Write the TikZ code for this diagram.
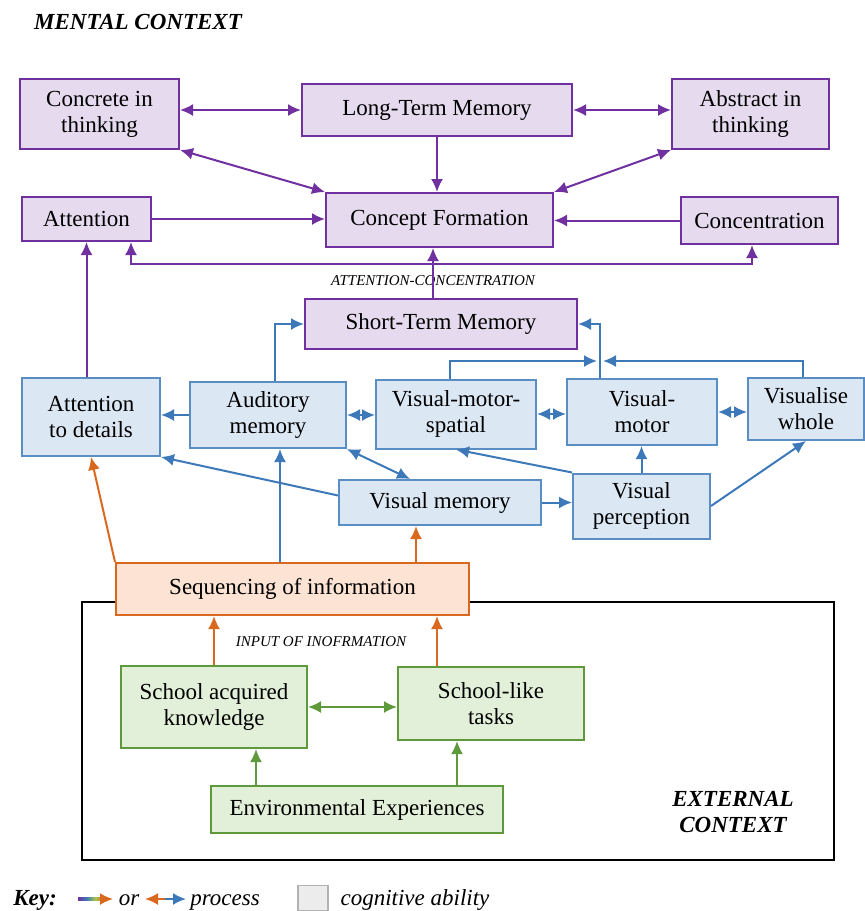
\documentclass[tikz,border=0pt]{standalone}
\usepackage{fontspec}
\setmainfont{Liberation Serif}
\usetikzlibrary{arrows.meta,calc}

\definecolor{mentalline}{HTML}{70309F}
\definecolor{mentalfill}{HTML}{E5DAEE}
\definecolor{visline}{HTML}{3D79B8}
\definecolor{visfill}{HTML}{DCE7F4}
\definecolor{seqline}{HTML}{D9691E}
\definecolor{seqfill}{HTML}{FCE3D3}
\definecolor{extline}{HTML}{5E9A3C}
\definecolor{extfill}{HTML}{E3F0D9}
\definecolor{keygreen}{HTML}{A8C64A}

\pgfdeclarehorizontalshading{keyrainbow}{100bp}{color(0bp)=(mentalline); color(25bp)=(mentalline); color(42bp)=(visline); color(60bp)=(keygreen); color(75bp)=(seqline); color(100bp)=(seqline)}

\begin{document}
\begin{tikzpicture}[x=0.5pt,y=-0.5pt,>={Latex[length=6.5pt,width=6pt]},
    box/.style={draw,line width=1pt,align=center,inner sep=1pt,font=\fontsize{11.5}{13}\selectfont},
    mentalbox/.style={box,draw=mentalline,fill=mentalfill},
    visbox/.style={box,draw=visline!85,fill=visfill},
    seqbox/.style={box,draw=seqline,fill=seqfill},
    extbox/.style={box,draw=extline,fill=extfill},
    mentalarrow/.style={line width=1pt,draw=mentalline},
    visarrow/.style={line width=1pt,draw=visline},
    seqarrow/.style={line width=1pt,draw=seqline},
    extarrow/.style={line width=1pt,draw=extline},
    smalllabel/.style={font=\fontsize{7.5}{9}\selectfont\itshape,inner sep=1pt},
    contextlabel/.style={font=\fontsize{11.5}{13}\selectfont\bfseries\itshape,inner sep=1pt},
    keytext/.style={font=\fontsize{11.5}{13}\selectfont\itshape,inner sep=1pt,anchor=base}]

    \useasboundingbox (0,0) rectangle (865,911);

    % external context frame
    \draw[line width=1pt] (82,602) rectangle (834,860);

    % mental context
    \node[contextlabel] (mental) at (138,22) {MENTAL CONTEXT};
    \node[mentalbox, minimum width=79.5pt, minimum height=35pt] (concrete) at (99.5,114) {Concrete in\\thinking};
    \node[mentalbox, minimum width=135pt, minimum height=26pt] (ltm) at (437,110) {Long-Term Memory};
    \node[mentalbox, minimum width=78.5pt, minimum height=35pt] (abstract) at (750.5,114) {Abstract in\\thinking};
    \node[mentalbox, minimum width=64.5pt, minimum height=22pt] (attention) at (86.5,219) {Attention};
    \node[mentalbox, minimum width=113.5pt, minimum height=27pt] (concept) at (439.5,220) {Concept Formation};
    \node[mentalbox, minimum width=78.5pt, minimum height=23.5pt] (concentration) at (759.5,220.5) {Concentration};
    \node[mentalbox, minimum width=136pt, minimum height=25pt] (stm) at (441,324) {Short-Term Memory};

    % visual / auditory abilities
    \node[visbox, minimum width=69pt, minimum height=39pt] (attdet) at (91,417) {Attention\\to details};
    \node[visbox, minimum width=78pt, minimum height=33pt] (auditory) at (268,415) {Auditory\\memory};
    \node[visbox, minimum width=80pt, minimum height=34.5pt] (vms) at (456,414) {Visual-motor-\\spatial};
    \node[visbox, minimum width=75pt, minimum height=33pt] (vmotor) at (642,412) {Visual-\\motor};
    \node[visbox, minimum width=58pt, minimum height=31pt] (vwhole) at (806,409) {Visualise\\whole};
    \node[visbox, minimum width=101pt, minimum height=22.5pt] (vmemory) at (440,502.5) {Visual memory};
    \node[visbox, minimum width=68.5pt, minimum height=32.5pt] (vperc) at (641.5,506) {Visual\\perception};

    % input side
    \node[seqbox, minimum width=176.5pt, minimum height=26pt] (seq) at (292.5,589) {Sequencing of information};
    \node[extbox, minimum width=93pt, minimum height=41pt] (school) at (214,707) {School acquired\\knowledge};
    \node[extbox, minimum width=93pt, minimum height=36.5pt] (schoollike) at (491,703.5) {School-like\\tasks};
    \node[extbox, minimum width=146pt, minimum height=23.5pt] (env) at (357,809.5) {Environmental Experiences};

    \node[smalllabel] (attconc) at (433,281) {ATTENTION-CONCENTRATION};
    \node[smalllabel] (input) at (321,642) {INPUT OF INOFRMATION};
    \node[contextlabel, align=center] (external) at (733,812) {EXTERNAL\\CONTEXT};

    % mental connectors
    \draw[mentalarrow,<->] (concrete.east |- ltm.west) -- (ltm.west);
    \draw[mentalarrow,<->] (ltm.east) -- (ltm.east -| abstract.west);
    \draw[mentalarrow,<->] (concrete.south east) -- (concept.north west);
    \draw[mentalarrow,<->] (abstract.south west) -- (concept.north east);
    \draw[mentalarrow,->] (ltm.south) -- (ltm.south |- concept.north);
    \draw[mentalarrow,->] (attention.east) -- (attention.east -| concept.west);
    \draw[mentalarrow,->] (concentration.west) -- (concentration.west -| concept.east);
    \coordinate (acleft) at (131,264);
    \coordinate (acright) at (752,264);
    \draw[mentalarrow,<->] (attention.south -| acleft) -- (acleft) -- (acright) -- (concentration.south -| acright);
    \coordinate (stmcf) at ($(stm.north)+(-8,0)$);
    \draw[mentalarrow,->] (stmcf) -- (stmcf |- concept.south);
    \draw[mentalarrow,->] (attention.south |- attdet.north) -- (attention.south);

    % visual connectors
    \draw[visarrow,->] ($(auditory.north)+(7,0)$) |- (stm.west);
    \coordinate (vjoin) at (600,361);
    \draw[visarrow,->] (vmotor.north -| vjoin) |- (stm.east);
    \draw[visarrow,->] ($(vms.north)+(-6,0)$) |- ([xshift=-1.5pt]vjoin);
    \draw[visarrow,->] ($(vwhole.north)+(-3,0)$) |- ([xshift=1.5pt]vjoin);
    \draw[visarrow,->] (auditory.west) -- (auditory.west -| attdet.east);
    \draw[visarrow,<->] (auditory.east) -- (auditory.east -| vms.west);
    \draw[visarrow,<->] (vms.east) -- (vms.east -| vmotor.west);
    \draw[visarrow,<->] (vmotor.east) -- (vmotor.east -| vwhole.west);
    \draw[visarrow,<->] (auditory.south east) -- ($(vmemory.north)+(-30,0)$);
    \draw[visarrow,->] ($(vmemory.west)+(0,-7)$) -- (attdet.south east);
    \draw[visarrow,->] (vmemory.east) -- (vmemory.east -| vperc.west);
    \draw[visarrow,->] (vperc.north west) -- (vms.south);
    \draw[visarrow,->] (vperc.north) -- (vperc.north |- vmotor.south);
    \draw[visarrow,->] (vperc.east) -- (vwhole.south);
    \coordinate (seqau) at ($(auditory.south)+(12,0)$);
    \draw[visarrow,->] (seqau |- seq.north) -- (seqau);

    % sequencing connectors
    \draw[seqarrow,->] (seq.north west) -- (attdet.south);
    \coordinate (seqvm) at ($(vmemory.south)+(-24,0)$);
    \draw[seqarrow,->] (seqvm |- seq.north) -- (seqvm);
    \draw[seqarrow,->] (school.north) -- (school.north |- seq.south);
    \coordinate (slseq) at ($(schoollike.north)+(-54,0)$);
    \draw[seqarrow,->] (slseq) -- (slseq |- seq.south);

    % external connectors
    \draw[extarrow,<->] (school.east) -- (school.east -| schoollike.west);
    \coordinate (envsa) at ($(school.south)+(42,0)$);
    \draw[extarrow,->] (envsa |- env.north) -- (envsa);
    \coordinate (envsl) at ($(schoollike.south)+(-34,0)$);
    \draw[extarrow,->] (envsl |- env.north) -- (envsl);

    % key
    \node[contextlabel, anchor=base] (key) at (35,905) {Key:};
    \shade[shading=keyrainbow] (78,897.5) rectangle (103,900.5);
    \draw[seqarrow,->] (101,899) -- (113,899);
    \node[keytext] (keyor) at (129,905) {or};
    \coordinate (keymid) at (165,899);
    \draw[seqarrow,->] (keymid) -- (145,899);
    \draw[visarrow,->] (keymid) -- (186,899);
    \node[keytext] (keyprocess) at (225,905) {process};
    \node[draw=gray!60, fill=gray!15, line width=0.8pt, minimum width=15pt, minimum height=12.5pt, inner sep=0pt] (keybox) at (313,898) {};
    \node[keytext] (keycog) at (415,905) {cognitive ability};
\end{tikzpicture}
\end{document}
